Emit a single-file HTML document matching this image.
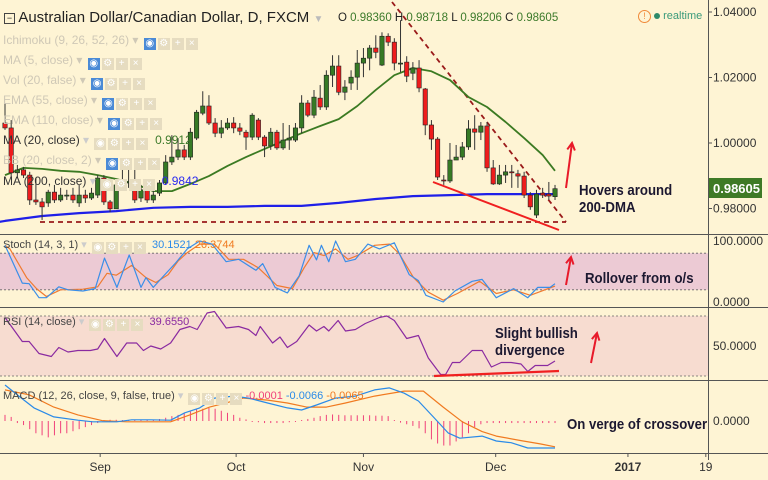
<!DOCTYPE html>
<html><head><meta charset="utf-8"><style>
html,body{margin:0;padding:0;background:#fef4d4;}
#wrap{position:relative;width:768px;height:480px;overflow:hidden;background:#fef4d4;font-family:"Liberation Sans",sans-serif;}
svg{position:absolute;left:0;top:0;}
.lg{position:absolute;left:3px;font-size:12px;color:#cfc8b6;white-space:nowrap;line-height:14px;}
.ic{display:inline-block;width:12px;height:12px;background:#e6dcc0;margin-left:2px;vertical-align:-2px;color:#fff;font-size:10px;text-align:center;line-height:12px;}
.ic.b{background:#4a8ad6;}
.ann{position:absolute;font-weight:bold;font-size:15px;color:#1c1830;line-height:17px;transform:scaleX(0.88);transform-origin:left center;white-space:nowrap;}
</style></head><body>
<div id="wrap">
<svg id="chart" width="768" height="480"></svg>

<div style="position:absolute;left:4px;top:9px;font-size:15px;color:#222;white-space:nowrap;"><span style="display:inline-block;width:9px;height:9px;border:1px solid #444;font-size:9px;line-height:8px;text-align:center;vertical-align:1px;">−</span> Australian Dollar/Canadian Dollar, D, FXCM <span style="color:#bbb;font-size:10px">▼</span></div>
<div style="position:absolute;left:338px;top:12px;font-size:11.5px;color:#222;white-space:nowrap;">O <span style="color:#3c7a2a">0.98360</span> H <span style="color:#3c7a2a">0.98718</span> L <span style="color:#3c7a2a">0.98206</span> C <span style="color:#3c7a2a">0.98605</span></div>
<div style="position:absolute;left:638px;top:10px;font-size:11px;color:#3a9a7a;white-space:nowrap;"><span style="display:inline-block;width:11px;height:11px;border:1px solid #f08a3a;border-radius:50%;color:#f08a3a;text-align:center;line-height:11px;font-size:9px;">!</span> <span style="display:inline-block;width:6px;height:6px;border-radius:50%;background:#2e8a6a;"></span> realtime</div>

<div class="lg" style="top:33px">Ichimoku (9, 26, 52, 26) ▾ <span class="ic b">◉</span><span class="ic">⚙</span><span class="ic">+</span><span class="ic">×</span></div>
<div class="lg" style="top:53px">MA (5, close) ▾ <span class="ic b">◉</span><span class="ic">⚙</span><span class="ic">+</span><span class="ic">×</span></div>
<div class="lg" style="top:73px">Vol (20, false) ▾ <span class="ic b">◉</span><span class="ic">⚙</span><span class="ic">+</span><span class="ic">×</span></div>
<div class="lg" style="top:93px">EMA (55, close) ▾ <span class="ic b">◉</span><span class="ic">⚙</span><span class="ic">+</span><span class="ic">×</span></div>
<div class="lg" style="top:113px">EMA (110, close) ▾ <span class="ic b">◉</span><span class="ic">⚙</span><span class="ic">+</span><span class="ic">×</span></div>
<div class="lg" style="top:133px;color:#333">MA (20, close) <span style="color:#ccc">▾</span> <span class="ic">◉</span><span class="ic">⚙</span><span class="ic">+</span><span class="ic">×</span> &nbsp;<span style="color:#3c7a2a">0.9912</span></div>
<div class="lg" style="top:153px">BB (20, close, 2) ▾ <span class="ic b">◉</span><span class="ic">⚙</span><span class="ic">+</span><span class="ic">×</span></div>
<div class="lg" style="top:174px;color:#333">MA (200, close) <span style="color:#ccc">▾</span> <span class="ic">◉</span><span class="ic">⚙</span><span class="ic">+</span><span class="ic">×</span> &nbsp;<span style="color:#2a2af0">0.9842</span></div>

<div class="lg" style="top:238px;color:#444;font-size:11px">Stoch (14, 3, 1) <span style="color:#ccc">▾</span> <span class="ic">◉</span><span class="ic">⚙</span><span class="ic">+</span><span class="ic">×</span> &nbsp;<span style="color:#2a8ae8">30.1521</span> <span style="color:#f07a20">26.3744</span></div>
<div class="lg" style="top:315px;color:#444;font-size:11px">RSI (14, close) <span style="color:#ccc">▾</span> <span class="ic">◉</span><span class="ic">⚙</span><span class="ic">+</span><span class="ic">×</span> &nbsp;<span style="color:#8a2aa0">39.6550</span></div>
<div class="lg" style="top:389px;color:#444;font-size:11px">MACD (12, 26, close, 9, false, true) <span style="color:#ccc">▾</span> <span class="ic">◉</span><span class="ic">⚙</span><span class="ic">+</span><span class="ic">×</span> <span style="color:#f0407a">-0.0001</span> <span style="color:#2a8ae8">-0.0066</span> <span style="color:#f07a20">-0.0065</span></div>

<div class="ann" style="left:579px;top:182px">Hovers around<br>200-DMA</div>
<div class="ann" style="left:585px;top:270px">Rollover from o/s</div>
<div class="ann" style="left:495px;top:325px">Slight bullish<br>divergence</div>
<div class="ann" style="left:567px;top:416px">On verge of crossover</div>
</div>
<script>
const opens=[1.0061,1.0046,0.9909,0.9918,0.9902,0.9826,0.9820,0.9817,0.9850,0.9826,0.9841,0.9841,0.9817,0.9841,0.9832,0.9841,0.9893,0.9820,0.9799,0.9872,0.9881,0.9881,0.9832,0.9863,0.9826,0.9847,0.9878,0.9942,0.9957,0.9979,0.9957,1.0015,1.0091,1.0113,1.0061,1.0030,1.0046,1.0061,1.0046,1.0033,1.0018,1.0070,1.0018,0.9991,1.0033,0.9985,1.0009,1.0009,1.0046,1.0122,1.0085,1.0137,1.0110,1.0207,1.0235,1.0155,1.0183,1.0201,1.0244,1.0259,1.0290,1.0238,1.0326,1.0308,1.0244,1.0247,1.0213,1.0229,1.0165,1.0055,1.0012,0.9887,0.9884,0.9948,0.9957,0.9988,1.0043,1.0033,1.0052,0.9924,0.9875,0.9902,0.9912,0.9906,0.9899,0.9841,0.9780,0.9847,0.9844,0.9836];
const closes=[1.0046,0.9909,0.9918,0.9902,0.9826,0.9820,0.9805,0.9850,0.9826,0.9841,0.9841,0.9826,0.9841,0.9832,0.9847,0.9893,0.9820,0.9799,0.9872,0.9881,0.9881,0.9826,0.9857,0.9826,0.9841,0.9878,0.9942,0.9957,0.9979,0.9957,1.0033,1.0094,1.0113,1.0061,1.0030,1.0046,1.0061,1.0046,1.0036,1.0018,1.0085,1.0018,0.9991,1.0033,0.9985,1.0009,1.0015,1.0046,1.0122,1.0085,1.0140,1.0110,1.0207,1.0235,1.0155,1.0171,1.0201,1.0244,1.0259,1.0290,1.0277,1.0326,1.0308,1.0244,1.0244,1.0204,1.0229,1.0168,1.0055,1.0012,0.9896,0.9884,0.9948,0.9957,0.9988,1.0043,1.0033,1.0052,0.9924,0.9875,0.9902,0.9912,0.9909,0.9899,0.9841,0.9805,0.9844,0.9841,0.9838,0.98605];
const highs=[1.0122,1.0070,0.9933,0.9927,0.9912,0.9893,0.9832,0.9857,0.9872,0.9863,0.9857,0.9863,0.9872,0.9857,0.9863,0.9902,0.9902,0.9826,0.9878,0.9948,0.9948,0.9918,0.9872,0.9872,0.9857,0.9887,0.9963,1.0024,1.0015,0.9994,1.0046,1.0101,1.0158,1.0146,1.0076,1.0070,1.0076,1.0079,1.0061,1.0040,1.0091,1.0076,1.0024,1.0046,1.0040,1.0061,1.0055,1.0061,1.0146,1.0131,1.0162,1.0177,1.0222,1.0268,1.0268,1.0192,1.0222,1.0284,1.0290,1.0299,1.0329,1.0338,1.0335,1.0320,1.0375,1.0265,1.0247,1.0253,1.0168,1.0070,1.0018,0.9902,1.0000,0.9994,1.0003,1.0070,1.0085,1.0064,1.0064,0.9948,0.9933,0.9933,0.9933,0.9918,0.9912,0.9850,0.9857,0.9863,0.9881,0.9872];
const lows=[1.0040,0.9896,0.9893,0.9893,0.9811,0.9811,0.9765,0.9805,0.9817,0.9820,0.9826,0.9817,0.9805,0.9817,0.9826,0.9832,0.9811,0.9789,0.9799,0.9857,0.9863,0.9817,0.9820,0.9817,0.9817,0.9838,0.9872,0.9933,0.9948,0.9948,0.9948,1.0009,1.0085,1.0055,1.0018,1.0015,1.0040,1.0030,1.0024,0.9979,1.0009,1.0009,0.9957,0.9979,0.9979,0.9979,0.9979,1.0003,1.0030,1.0079,1.0076,1.0101,1.0101,1.0171,1.0146,1.0131,1.0162,1.0162,1.0201,1.0222,1.0259,1.0235,1.0296,1.0222,1.0216,1.0186,1.0192,1.0155,1.0024,0.9979,0.9887,0.9872,0.9878,0.9948,0.9948,0.9979,0.9979,1.0009,0.9912,0.9872,0.9872,0.9878,0.9863,0.9863,0.9832,0.9796,0.9771,0.9832,0.9826,0.9826];
const ma20Idx=[0,3,6,9,12,15,18,21,24,27,30,33,36,39,42,45,48,51,54,57,60,63,66,69,72,75,78,81,84,87,89];
const ma20Vals=[0.9902,0.9924,0.9921,0.9915,0.9912,0.9902,0.9890,0.9875,0.9853,0.9853,0.9875,0.9899,0.9930,0.9957,0.9982,1.0006,1.0030,1.0052,1.0073,1.0113,1.0162,1.0207,1.0229,1.0219,1.0192,1.0140,1.0110,1.0064,1.0015,0.9963,0.9915];
const ma200Idx=[-1,0,6,12,18,24,30,36,42,48,54,60,66,72,78,84,89];
const ma200Vals=[0.9759,0.9762,0.9777,0.9786,0.9792,0.9802,0.9805,0.9805,0.9808,0.9808,0.9817,0.9829,0.9838,0.9841,0.9844,0.9844,0.9844];
const priceTicks=[1.04,1.02,1.00,0.98];
const priceTickLabels=["1.04000","1.02000","1.00000","0.98000"];
const stochKIdx=[0,2.8,3.9,5.5,6.7,8.7,10.2,12.6,14.6,16.1,18.1,20.1,22,22.8,24,25.6,27.6,29.5,31.5,33.5,35.8,37.8,40.6,41.7,43.7,45.7,47.6,49.2,50.4,51.2,52.4,53.5,55.1,56.7,58.7,60.6,63,65.4,66.9,68.1,70.9,72.8,75.6,77.2,79.5,82.3,84.6,86.2,88.2,89];
const stochK=[93,31,30,7,7,25,20,18,22,72,24,77,24,40,24,42,64,87,100,95,66,70,52,63,24,15,43,93,69,93,66,100,66,70,95,87,97,45,35,11,0,18,34,37,7,22,7,24,24,30];
const stochDIdx=[0,0.8,3.5,5.1,6.7,9,12.6,15,16.5,18,20.5,22.8,24.4,26.4,28,29.5,31.5,33.9,36.2,38.6,41,44,46.5,48.4,50,51.6,53.5,55.5,57,59.8,62.2,63.8,66.1,68.5,70.9,73.2,76.8,79.5,82.3,85,89];
const stochD=[93,87,40,22,9,20,21,25,47,44,60,40,32,45,67,81,95,95,70,70,56,27,22,56,81,76,87,70,76,93,95,79,40,16,3,14,34,14,20,11,26];
const rsiIdx=[0,2.8,3.9,5.5,7.5,8.7,10.2,11.8,13.8,15,16.1,18.1,19.7,21.3,22.4,23.6,25.2,26.8,28.3,29.9,31.1,32.7,33.9,35.8,37.8,39.4,40.6,41.3,43.3,44.5,45.7,47.2,49.2,50.4,51.6,52.4,53.9,55.1,56.7,58.3,60.6,61.8,63,65,66.9,68.5,70.5,71.3,72.4,73.6,75.6,77.2,78.7,80.3,81.9,83.5,84.6,85.8,87.8,89];
const rsiVals=[69,53,53,45,43,49,46,47,47,48,55,43,52,52,47,50,48,52,61,63,61,72,73,62,63,61,57,63,52,56,49,53,64,60,63,60,67,60,61,65,69,70,67,55,57,42,31,31,39,39,47,47,36,39,39,38,33,37,37,40];
const rsiTicks=[50];
const macdIdx=[0,2.4,4.7,7.9,11.8,14.2,18.1,20.5,23.6,26.8,29.1,31.5,33.9,37,39.4,42.5,45.7,48,50.4,53.5,56.7,59.8,62.2,64.6,66.9,69.3,71.7,73.6,77.2,79.5,81.9,84.6,89];
const macdVals=[0.0088,0.0059,0.0032,0.0010,0.0002,-0.0002,-0.0002,0.0003,0.0003,0.0002,0.0020,0.0032,0.0056,0.0061,0.0056,0.0044,0.0032,0.0027,0.0039,0.0056,0.0061,0.0076,0.0081,0.0068,0.0049,0.0010,-0.0029,-0.0042,-0.0037,-0.0049,-0.0053,-0.0066,-0.0066];
const signalIdx=[0,3.9,7.9,11.8,15.7,19.7,26.8,29.9,33.1,36.2,38.6,42.5,45.7,48.8,52,55.1,59.8,64.6,67.7,70.9,74,77.2,79.5,83.5,86.6,89];
const signalVals=[0.0076,0.0064,0.0034,0.0015,0.0001,-0.0002,-0.0002,0.0015,0.0034,0.0046,0.0056,0.0051,0.0044,0.0034,0.0034,0.0044,0.0061,0.0073,0.0073,0.0034,-0.0002,-0.0026,-0.0037,-0.0048,-0.0056,-0.0063];
const histVals=[1.5,1,-0.5,-1,-2,-3,-3.5,-4,-3.5,-3,-3,-2.5,-2,-1.5,-1,-0.5,0,0.3,0.3,0.2,0.2,0.2,0.3,0.3,0,0.5,0.8,1.2,1.5,2,2.3,2.8,3,3.2,3,2.5,2,1.5,0.8,0.4,-0.2,-0.3,-0.5,-0.5,-0.5,-0.5,-0.3,-0.2,0.2,0.5,0.8,1.2,1.5,1.6,1.5,1.4,1.4,1.4,1.4,1.4,1.3,1.3,1.2,0,-0.4,-0.8,-1.2,-1.8,-3,-4.5,-5.5,-6,-6,-5,-4,-3,-1.5,-0.8,-0.5,-0.5,-0.5,-0.5,-0.5,-0.5,-0.5,-0.5,-0.5,-0.5,-0.5,-0.5];
const monthLabels=["Sep","Oct","Nov","Dec","2017","19"];
const monthIdx=[15.4,37.4,58,79.4,100.8,113.4];

const NS="http://www.w3.org/2000/svg";
const svg=document.getElementById('chart');
const xi=i=>5+i*6.18;
const yP=p=>143-(p-1)*3275;
const yS=v=>302-v*0.61;
const yR=v=>346-(v-50)*1.5;
const yM=v=>421-v*4090;
function mk(tag,attrs,parent){const e=document.createElementNS(NS,tag);for(const k in attrs)e.setAttribute(k,attrs[k]);(parent||svg).appendChild(e);return e;}
function poly(ix,vals,fy,color,w,name){
  const pts=ix.map((i,k)=>xi(i).toFixed(1)+','+fy(vals[k]).toFixed(1)).join(' ');
  const e=mk('polyline',{points:pts,fill:'none',stroke:color,'stroke-width':w,'stroke-linejoin':'round'});
  
  
  return e;
}
let b=mk('rect',{x:0,y:yS(80),width:708,height:yS(20)-yS(80),fill:'#eccad4'});


b=mk('rect',{x:0,y:yR(70),width:708,height:yR(30)-yR(70),fill:'#f7dcd0'});


[[yS(80),'stoch-upper-line'],[yS(20),'stoch-lower-line'],[yR(70),'rsi-upper-line'],[yR(30),'rsi-lower-line']].forEach(([y,n])=>{
  const l=mk('line',{x1:0,x2:708,y1:y,y2:y,stroke:'#666','stroke-dasharray':'2,2','stroke-width':0.8});
  
  
});
[234,307,380,453].forEach((y,k)=>{
  const l=mk('line',{x1:0,x2:768,y1:y+0.5,y2:y+0.5,stroke:'#555','stroke-width':1});
  
  
});
let ax=mk('line',{x1:708.5,x2:708.5,y1:0,y2:460,stroke:'#555','stroke-width':1});


priceTicks.forEach((p,k)=>{
  const t=mk('text',{x:713,y:yP(p)+4,'font-size':12,fill:'#333','font-family':'Liberation Sans, sans-serif'});
  t.textContent=priceTickLabels[k];
  
  
  mk('line',{x1:708,x2:712,y1:yP(p),y2:yP(p),stroke:'#555'});
});
[[yS(100),'100.0000'],[yS(0),'0.0000'],[yR(50),'50.0000'],[yM(0),'0.0000']].forEach(([y,s])=>{
  const t=mk('text',{x:713,y:y+4,'font-size':12,fill:'#333','font-family':'Liberation Sans, sans-serif'});
  t.textContent=s;
  
  
});
let d=mk('line',{x1:40,y1:222,x2:566,y2:222,stroke:'#9a1a1a','stroke-width':1.8,'stroke-dasharray':'5,4'});


d=mk('line',{x1:392,y1:2,x2:566,y2:222,stroke:'#9a1a1a','stroke-width':1.8,'stroke-dasharray':'5,4'});


poly(ma200Idx,ma200Vals,yP,'#1f1fe8',2.2,'ma200-line');
poly(ma20Idx,ma20Vals,yP,'#3b7a22',1.8,'ma20-line');
closes.forEach((c,i)=>{
  const o=opens[i],x=xi(i),up=c>=o;
  const w=mk('line',{x1:x,x2:x,y1:yP(highs[i]),y2:yP(lows[i]),stroke:'#333','stroke-width':1});
  
  
  const top=yP(Math.max(o,c)),h=Math.max(1,Math.abs(yP(o)-yP(c)));
  const r=mk('rect',{x:x-2.2,y:top,width:4.4,height:h,fill:up?'#367a25':'#ee1c1c',stroke:'#222','stroke-width':0.6});
  
  
});
d=mk('line',{x1:433,y1:182,x2:559,y2:230,stroke:'#f02020','stroke-width':2});


function arrow(x1,y1,x2,y2,name){
  const g=mk('g',{stroke:'#e81a2a','stroke-width':2,fill:'none'});
  
  
  mk('line',{x1,y1,x2,y2},g);
  const a=Math.atan2(y2-y1,x2-x1);
  const L=8;
  mk('polyline',{points:`${x2-L*Math.cos(a-0.5)},${y2-L*Math.sin(a-0.5)} ${x2},${y2} ${x2-L*Math.cos(a+0.5)},${y2-L*Math.sin(a+0.5)}`},g);
}
arrow(566,188,572,143,'price-up-arrow');
arrow(566,285,571,257,'stoch-up-arrow');
arrow(591,363,597,333,'rsi-up-arrow');
let lb=mk('rect',{x:709,y:178,width:53,height:20,fill:'#3e7a26'});


let lt=mk('text',{x:713,y:193,'font-size':13,fill:'#fff','font-weight':'bold','font-family':'Liberation Sans, sans-serif'});
lt.textContent='0.98605';


poly(stochDIdx,stochD,yS,'#f07a30',1.2,'stoch-d-line');
poly(stochKIdx,stochK,yS,'#3a8ee8',1.2,'stoch-k-line');
poly(rsiIdx,rsiVals,yR,'#8a2aa0',1.2,'rsi-line');
d=mk('line',{x1:434,y1:376,x2:559,y2:371,stroke:'#f02020','stroke-width':2.2});


histVals.forEach((h,i)=>{
  const y0=yM(0),y1=yM(h*0.001);
  const l=mk('line',{x1:xi(i),x2:xi(i),y1:y0,y2:Math.abs(y1-y0)<1?y0+(h<0?1:-1):y1,stroke:'#f0407a','stroke-width':1});
  
  
});
poly(signalIdx,signalVals,yM,'#f07a20',1.2,'macd-signal-line');
poly(macdIdx,macdVals,yM,'#2a8ae8',1.2,'macd-line');
monthLabels.forEach((m,k)=>{
  const x=xi(monthIdx[k]);
  mk('line',{x1:x,x2:x,y1:453,y2:457,stroke:'#555'});
  const t=mk('text',{x:x,y:471,'font-size':12,fill:'#333','text-anchor':'middle','font-weight':m==='2017'?'bold':'normal','font-family':'Liberation Sans, sans-serif'});
  t.textContent=m;
  
  
});
</script>
</body></html>
